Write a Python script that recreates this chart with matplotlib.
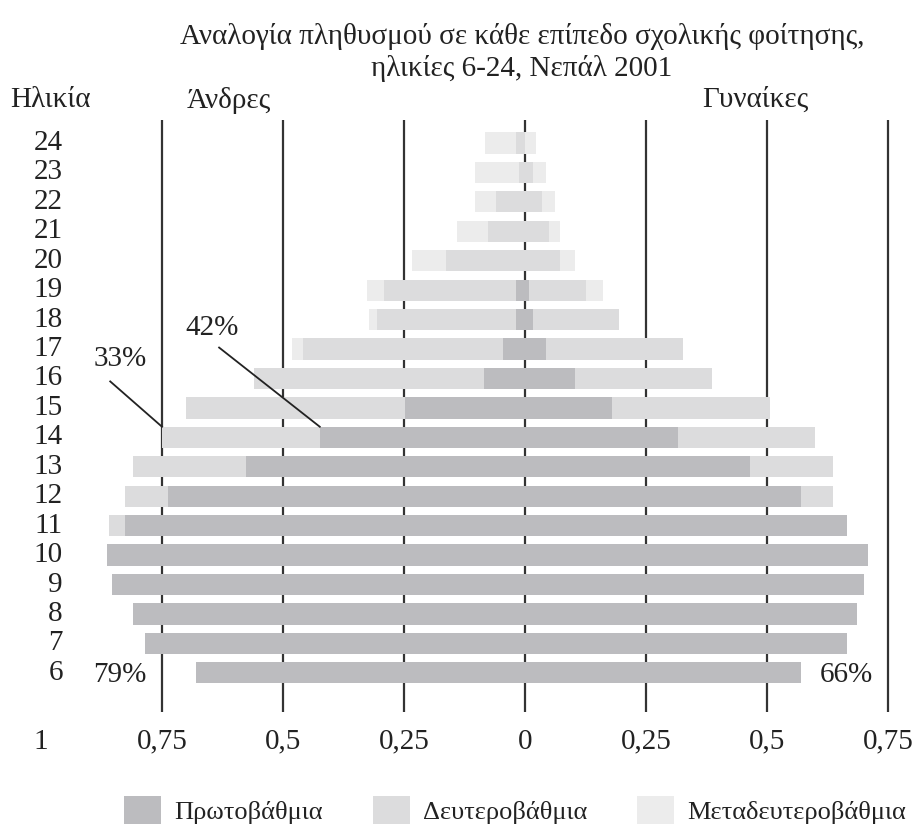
import matplotlib
matplotlib.use("Agg")
import matplotlib.pyplot as plt
from matplotlib.patches import Patch

plt.rcParams['font.family'] = ['Liberation Serif', 'DejaVu Serif']

ages = list(range(6, 25))

male_primary = [0.68, 0.785, 0.81, 0.853, 0.864, 0.826, 0.738, 0.576, 0.424, 0.248,
                0.085, 0.045, 0.019, 0.019, 0, 0, 0, 0, 0]
male_secondary = [0, 0, 0, 0, 0, 0.033, 0.089, 0.233, 0.326, 0.452,
                  0.475, 0.413, 0.287, 0.273, 0.163, 0.076, 0.06, 0.012, 0.019]
male_post = [0, 0, 0, 0, 0, 0, 0, 0, 0, 0,
             0, 0.023, 0.017, 0.035, 0.07, 0.064, 0.043, 0.091, 0.064]

female_primary = [0.570, 0.665, 0.686, 0.701, 0.709, 0.665, 0.570, 0.465, 0.316, 0.18,
                  0.103, 0.043, 0.017, 0.008, 0, 0, 0, 0, 0]
female_secondary = [0, 0, 0, 0, 0, 0, 0.066, 0.171, 0.283, 0.326,
                    0.283, 0.283, 0.178, 0.118, 0.072, 0.05, 0.035, 0.017, 0]
female_post = [0, 0, 0, 0, 0, 0, 0, 0, 0, 0,
               0, 0, 0, 0.035, 0.031, 0.023, 0.027, 0.027, 0.023]

levels = ['Πρωτοβάθμια', 'Δευτεροβάθμια', 'Μεταδευτεροβάθμια']
colors = ['#bcbcbf', '#dcdcdd', '#ececec']

xticks = [-1, -0.75, -0.5, -0.25, 0, 0.25, 0.5, 0.75]
xticklabels = ['1', '0,75', '0,5', '0,25', '0', '0,25', '0,5', '0,75']

fig = plt.figure(figsize=(9.16, 8.27), dpi=100)
W, H = 916, 827
# axes: x from -1 (41px) to 0.78, y from 712px to 120px
ax = fig.add_axes([41 / W, 1 - 712 / H, 1.78 * 484 / W, (712 - 120) / H])
ax.set_xlim(-1.0, 0.78)
ax.set_ylim(4.67, 24.78)

for x in [-0.75, -0.5, -0.25, 0, 0.25, 0.5, 0.75]:
    ax.axvline(x, color='#333333', lw=1.6, zorder=1)

h = 0.72
m1 = [-v for v in male_primary]
m2 = [-v for v in male_secondary]
m3 = [-v for v in male_post]
ax.barh(ages, m1, height=h, color=colors[0], zorder=2)
ax.barh(ages, m2, left=m1, height=h, color=colors[1], zorder=2)
ax.barh(ages, m3, left=[a + b for a, b in zip(m1, m2)], height=h, color=colors[2], zorder=2)
ax.barh(ages, female_primary, height=h, color=colors[0], zorder=2)
ax.barh(ages, female_secondary, left=female_primary, height=h, color=colors[1], zorder=2)
ax.barh(ages, female_post, left=[a + b for a, b in zip(female_primary, female_secondary)],
        height=h, color=colors[2], zorder=2)

fs = 21
tc = '#222222'
for a in ages:
    ax.text(-0.955, a, str(a), ha='right', va='center', fontsize=fs, color=tc)

ax.set_xticks(xticks)
ax.set_xticklabels(xticklabels, fontsize=fs, color=tc)
ax.tick_params(axis='x', length=0, pad=12)
ax.set_yticks([])
for s in ax.spines.values():
    s.set_visible(False)

# leader lines for the age-14 labels
i14 = ages.index(14)
top14 = 14 + h / 2
ax.text(-0.647, 17.7, '42%', ha='center', va='center', fontsize=fs, color=tc)
ax.plot([-0.632, -male_primary[i14]], [17.05, top14], color=tc, lw=1.3, zorder=3)
ax.text(-0.837, 16.65, '33%', ha='center', va='center', fontsize=fs, color=tc)
ax.plot([-0.857, -(male_primary[i14] + male_secondary[i14])], [15.9, top14],
        color=tc, lw=1.3, zorder=3)
ax.text(-0.837, 5.93, '79%', ha='center', va='center', fontsize=fs, color=tc)
ax.text(0.665, 5.93, '66%', ha='center', va='center', fontsize=fs, color=tc)

fig.text(522 / W, 1 - 36 / H, 'Αναλογία πληθυσμού σε κάθε επίπεδο σχολικής φοίτησης,',
         ha='center', va='center', fontsize=fs, color=tc)
fig.text(522 / W, 1 - 68 / H, 'ηλικίες 6-24, Νεπάλ 2001',
         ha='center', va='center', fontsize=fs, color=tc)
fig.text(10 / W, 1 - 100 / H, 'Ηλικία', ha='left', va='center', fontsize=fs, color=tc)
fig.text(229 / W, 1 - 100 / H, 'Άνδρες', ha='center', va='center', fontsize=fs, color=tc)
fig.text(755 / W, 1 - 100 / H, 'Γυναίκες', ha='center', va='center', fontsize=fs, color=tc)

handles = [Patch(facecolor=c, edgecolor='none') for c in colors]
fig.legend(handles, levels, loc='center', bbox_to_anchor=(515 / W, 1 - 810 / H), ncol=3,
           frameon=False, fontsize=19, handlelength=1.4, handleheight=1.25,
           columnspacing=1.9, handletextpad=0.5, labelcolor=tc)

fig.savefig('out.png', dpi=100)
